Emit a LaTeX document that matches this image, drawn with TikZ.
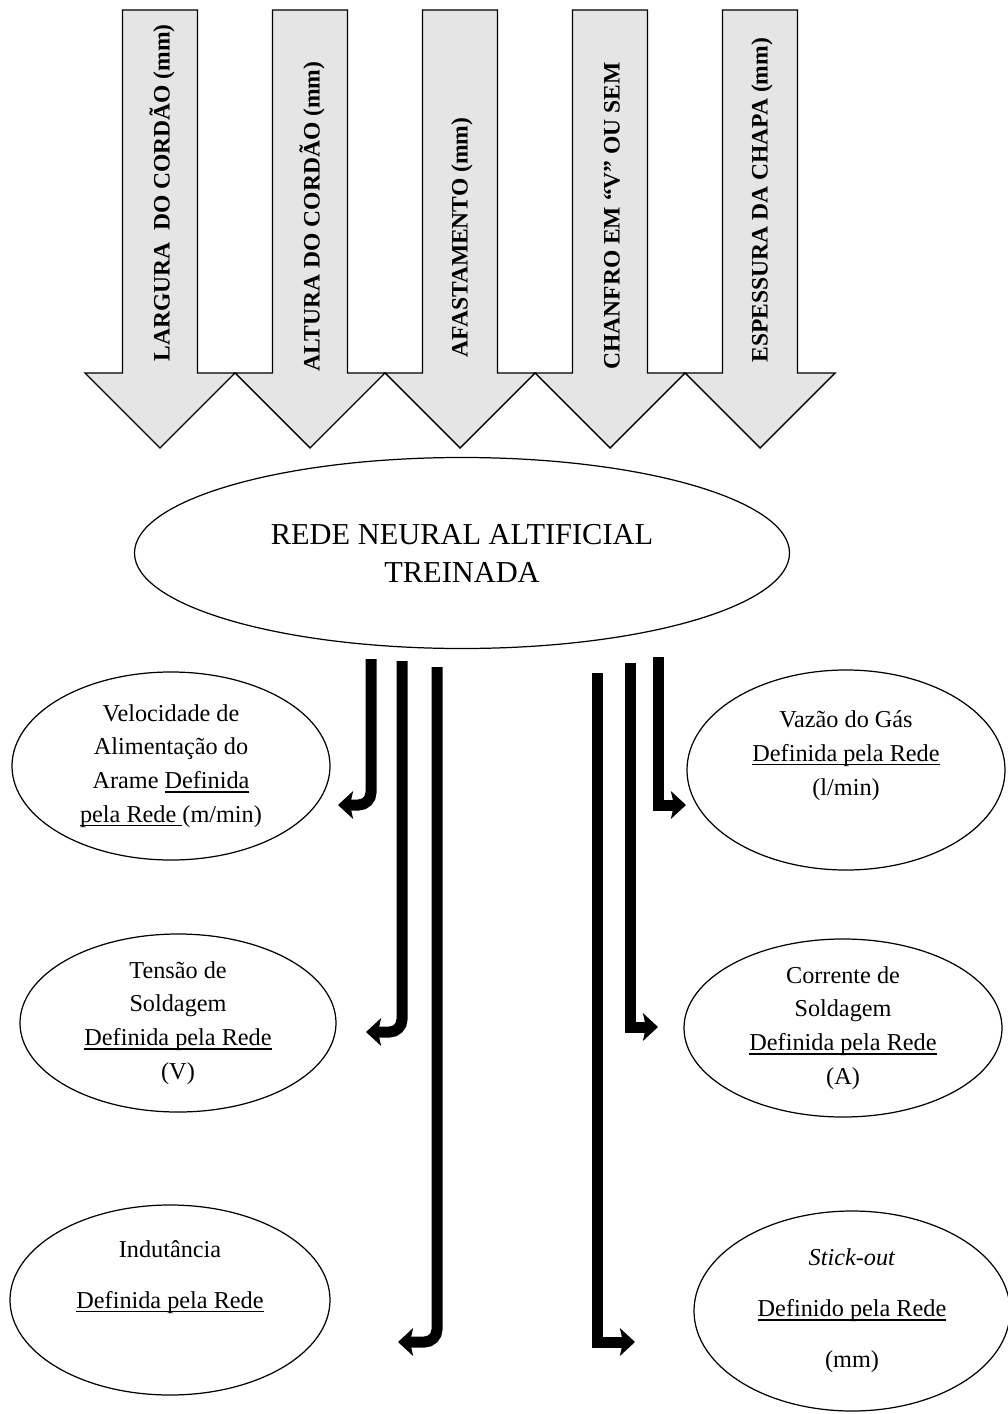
\documentclass[tikz,border=0pt]{standalone}
\usepackage{fontspec}
\setmainfont{Liberation Serif}
\usetikzlibrary{arrows.meta,shapes.geometric}

\newcommand{\sublinha}[1]{\sbox0{#1}\rlap{\rule[-2.2pt]{\wd0}{0.7pt}}\usebox0}

\tikzset{
  entrada/.style={draw=black, fill=black!10, line width=0.8pt},
  rotulo/.style={rotate=90, anchor=west, inner sep=0pt, font=\bfseries\fontsize{13.4}{16}\selectfont},
  saida/.style={draw, ellipse, line width=0.7pt, align=center, inner sep=0pt, font=\fontsize{13.8}{19.2}\selectfont},
  espaco/.style={font=\fontsize{13.8}{29}\selectfont},
  liga/.style={line width=2.2mm, -{Stealth[length=3mm,width=5.5mm,inset=0.6mm]}},
}

\begin{document}
\begin{tikzpicture}[x=0.2mm,y=-0.2mm]
  \useasboundingbox (0,0) rectangle (1007,1414);

  % parametros de entrada
  \foreach \i/\txt/\ini in {0/{LARGURA~ DO CORDÃO (mm)}/362, 1/{ALTURA DO CORDÃO (mm)}/372, 2/{AFASTAMENTO (mm)}/358, 3/{CHANFRO EM “V” OU SEM}/370, 4/{ESPESSURA DA CHAPA (mm)}/363}{
    \pgfmathsetmacro{\xc}{160+150*\i}
    \draw[entrada] (\xc-37.5,10) -- (\xc+37.5,10) -- (\xc+37.5,373) -- (\xc+75,373)
      -- (\xc,448) -- (\xc-75,373) -- (\xc-37.5,373) -- cycle;
    \node[rotulo] (in\i) at (\xc+2,\ini) {\txt};
  }

  % rede
  \node[saida, minimum width=131mm, minimum height=38.2mm, font=\fontsize{17.3}{21.6}\selectfont] (rede) at (462,553)
    {REDE NEURAL ALTIFICIAL\\TREINADA};

  % saidas
  \node[saida, minimum width=63.6mm, minimum height=37.6mm] (vel) at (171,766)
    {Velocidade de\\Alimentação do\\Arame \sublinha{Definida}\\\sublinha{pela Rede }(m/min)};
  \node[saida, minimum width=63.2mm, minimum height=35.6mm] (tensao) at (178,1023)
    {Tensão de\\Soldagem\\\sublinha{Definida pela Rede}\\(V)};
  \node[saida, espaco, minimum width=64mm, minimum height=38mm] (indut) at (170,1300)
    {Indutância\\\sublinha{Definida pela Rede}\\~};
  \node[saida, minimum width=63.6mm, minimum height=40mm] (vazao) at (846,770)
    {Vazão do Gás\\\sublinha{Definida pela Rede}\\(l/min)\\~};
  \node[saida, minimum width=63.6mm, minimum height=35.6mm] (corrente) at (843,1028)
    {Corrente de\\Soldagem\\\sublinha{Definida pela Rede}\\(A)};
  \node[saida, espaco, minimum width=63.2mm, minimum height=40mm] (stick) at (852,1311)
    {\textit{Stick-out}\\\sublinha{Definido pela Rede}\\(mm)};

  % ligacoes
  \coordinate (a1) at (371,659);  \coordinate (b1) at (338,805);
  \coordinate (a2) at (402,661);  \coordinate (b2) at (366,1032);
  \coordinate (a3) at (437,667);  \coordinate (b3) at (398,1342);
  \coordinate (a4) at (658,657);  \coordinate (b4) at (686,805);
  \coordinate (a5) at (630,663);  \coordinate (b5) at (658,1027);
  \coordinate (a6) at (597,673);  \coordinate (b6) at (635,1342);

  \draw[liga, rounded corners=2.5mm] (a1) |- (b1);
  \draw[liga, rounded corners=2.5mm] (a2) |- (b2);
  \draw[liga, rounded corners=2.5mm] (a3) |- (b3);
  \draw[liga] (a4) |- (b4);
  \draw[liga] (a5) |- (b5);
  \draw[liga] (a6) |- (b6);
\end{tikzpicture}
\end{document}
